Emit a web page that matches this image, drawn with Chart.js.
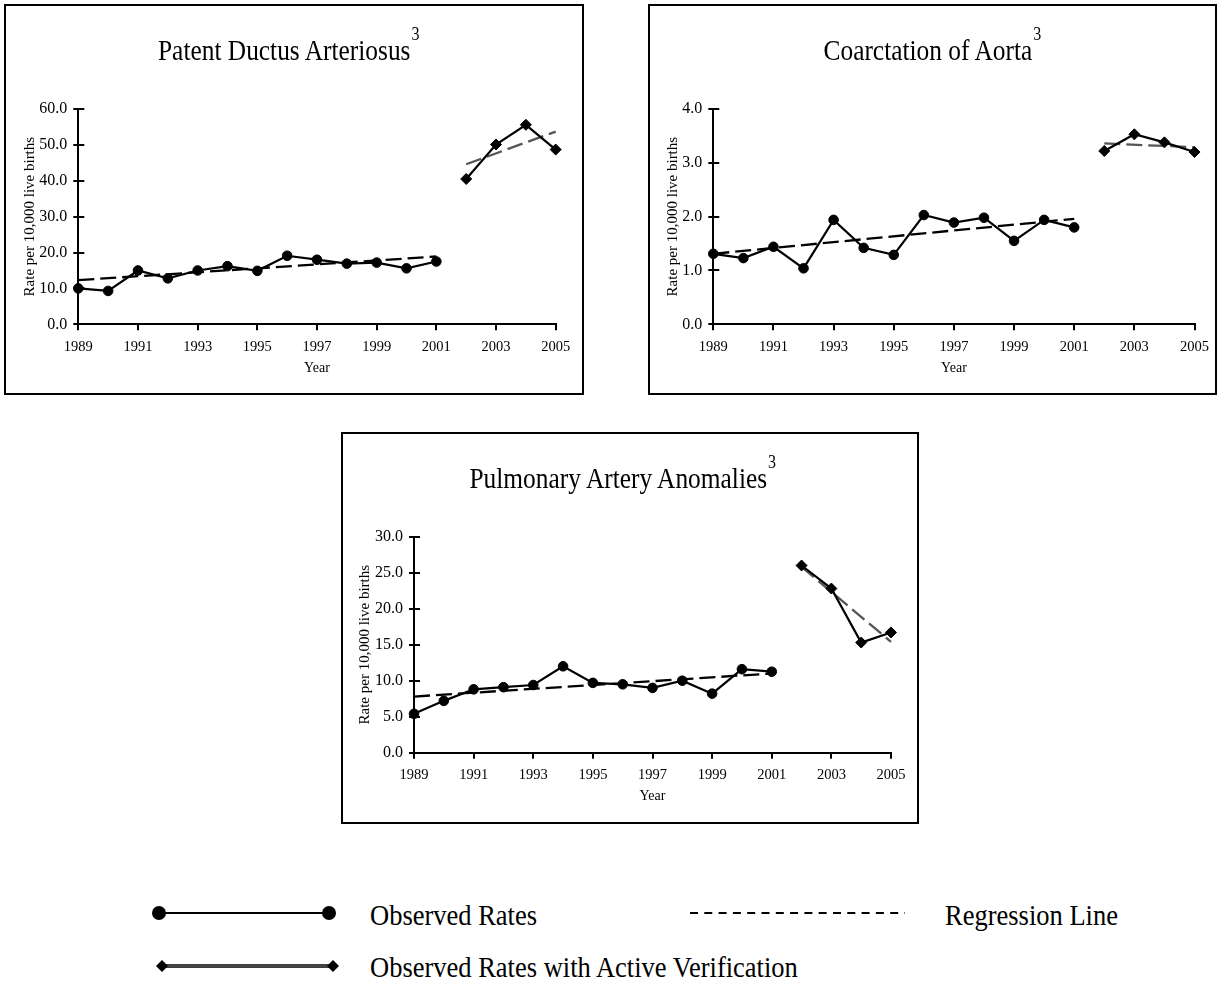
<!DOCTYPE html>
<html><head><meta charset="utf-8">
<script src="https://cdn.jsdelivr.net/npm/chart.js@4.4.0/dist/chart.umd.min.js"></script>
<style>
html,body{margin:0;padding:0;background:#fff;}
body{width:1219px;height:982px;position:relative;overflow:hidden;font-family:"Liberation Serif","Times New Roman",serif;color:#000;}
.box{position:absolute;border:2px solid #000;box-sizing:border-box;pointer-events:none;}
canvas{position:absolute;}
.title{position:absolute;font-size:25.4px;line-height:26px;white-space:nowrap;transform:scaleY(1.16);transform-origin:0 21.6px;}
.title .sup{font-size:16px;position:relative;top:-17.2px;margin-left:1px;}
.leg{position:absolute;font-size:26.5px;line-height:26.5px;white-space:nowrap;transform:scaleY(1.12);transform-origin:0 13.5px;}
</style></head><body>

<canvas id="c1" width="580" height="391" style="left:4px;top:4px"></canvas>
<canvas id="c2" width="569" height="391" style="left:648px;top:4px"></canvas>
<canvas id="c3" width="578" height="392" style="left:341px;top:432px"></canvas>

<div class="box" style="left:4px;top:4px;width:580px;height:391px"></div>
<div class="box" style="left:648px;top:4px;width:569px;height:391px"></div>
<div class="box" style="left:341px;top:432px;width:578px;height:392px"></div>

<div class="title" style="left:158px;top:38.4px">Patent Ductus Arteriosus<span class="sup">3</span></div>
<div class="title" style="left:823.5px;top:38.4px">Coarctation of Aorta<span class="sup">3</span></div>
<div class="title" style="left:469.5px;top:466.4px">Pulmonary Artery Anomalies<span class="sup">3</span></div>

<svg style="position:absolute;left:0;top:870px" width="1219" height="112">
  <line x1="159" y1="43" x2="329" y2="43" stroke="#000" stroke-width="2"/>
  <circle cx="159" cy="43" r="7" fill="#000"/>
  <circle cx="329" cy="43" r="7" fill="#000"/>
  <line x1="690" y1="43" x2="905" y2="43" stroke="#000" stroke-width="2" stroke-dasharray="8 6.3"/>
  <line x1="162" y1="96" x2="333" y2="96" stroke="#000" stroke-width="3.5"/>
  <line x1="162" y1="96" x2="333" y2="96" stroke="#888" stroke-width="1.2"/>
  <polygon points="156,96 162,90 168,96 162,102" fill="#000"/>
  <polygon points="327,96 333,90 339,96 333,102" fill="#000"/>
</svg>
<div class="leg" style="left:370px;top:901.5px">Observed Rates</div>
<div class="leg" style="left:945px;top:901.5px">Regression Line</div>
<div class="leg" style="left:370px;top:953.5px">Observed Rates with Active Verification</div>

<script>
// ---------- data ----------
const years = [1989,1990,1991,1992,1993,1994,1995,1996,1997,1998,1999,2000,2001];
const yearsActive = [2002,2003,2004,2005];
const regYearsObserved = [1989,2001];
const regYearsActive = [2002,2005];
const xTickYears = [1989,1991,1993,1995,1997,1999,2001,2003,2005];

const pdaObserved = [10.0,9.3,15.0,12.8,15.0,16.2,14.9,19.1,18.0,16.9,17.2,15.6,17.5];
const pdaActive = [40.5,50.1,55.6,48.7];
const pdaRegObserved = [12.3,18.9];
const pdaRegActive = [44.6,53.7];
const pdaTicks = [0,10,20,30,40,50,60];

const coaObserved = [1.31,1.23,1.44,1.04,1.94,1.42,1.29,2.03,1.89,1.98,1.55,1.94,1.80];
const coaActive = [3.22,3.53,3.38,3.20];
const coaRegObserved = [1.31,1.96];
const coaRegActive = [3.36,3.29];
const coaTicks = [0,1,2,3,4];

const paaObserved = [5.4,7.2,8.8,9.1,9.4,12.0,9.7,9.5,9.0,10.0,8.2,11.6,11.25];
const paaActive = [26.0,22.8,15.3,16.7];
const paaRegObserved = [7.8,11.0];
const paaRegActive = [25.8,15.4];
const paaTicks = [0,5,10,15,20,25,30];

const yTitle = 'Rate per 10,000 live births';
const xTitle = 'Year';

// ---------- rendering ----------
const FONT = '"Liberation Serif","Times New Roman",serif';
function pts(xs, ys){ return xs.map((x,i)=>({x:x, y:ys[i]})); }

const innerTicks = {
  id:'innerTicks',
  beforeDatasetsDraw(chart){
    const ys = chart.scales.y, xs = chart.scales.x, ctx = chart.ctx;
    ctx.save(); ctx.strokeStyle='#000'; ctx.lineWidth=2;
    ys.ticks.forEach(t=>{
      const py = Math.round(ys.getPixelForValue(t.value));
      ctx.beginPath(); ctx.moveTo(xs.left, py); ctx.lineTo(xs.left+6, py); ctx.stroke();
    });
    ctx.restore();
  }
};

function makeChart(id, p){
  new Chart(document.getElementById(id), {
    type:'line',
    data:{datasets:[
      {data:pts(years,p.obs), borderColor:'#000', backgroundColor:'#000', borderWidth:2.2,
       pointStyle:'circle', pointRadius:4.8, pointBorderWidth:1, clip:false, tension:0},
      {data:pts(yearsActive,p.act), borderColor:'#000', backgroundColor:'#000', borderWidth:2.2,
       pointStyle:'rectRot', pointRadius:5.5, pointBorderWidth:1, clip:false, tension:0},
      {data:pts(regYearsObserved,p.reg1), borderColor:'#000', borderWidth:2.3, borderDash:[16,6],
       pointRadius:0, clip:false},
      {data:pts(regYearsActive,p.reg2), borderColor:'#555', borderWidth:2.3, borderDash:[16,6],
       pointRadius:0, clip:false}
    ]},
    options:{
      responsive:false, animation:false, events:[],
      layout:{padding:{left:0, top:p.padTop, right:p.padRight, bottom:0}},
      plugins:{legend:{display:false}, tooltip:{enabled:false}},
      scales:{
        x:{type:'linear', min:1989, max:2005,
          afterBuildTicks:s=>{ s.ticks = xTickYears.map(v=>({value:v})); },
          afterFit:s=>{ s.height = p.xH; },
          ticks:{color:'#000', font:{family:FONT, size:14.5}, padding:8, maxRotation:0, autoSkip:false,
                 callback:v=>String(v)},
          grid:{display:true, drawOnChartArea:false, drawTicks:true, tickLength:6, color:'#000', lineWidth:2},
          border:{display:true, color:'#000', width:2},
          title:{display:true, text:xTitle, color:'#000', font:{family:FONT, size:14}, padding:{top:0, bottom:p.xTitlePad}}
        },
        y:{type:'linear', min:0, max:p.ticks[p.ticks.length-1],
          afterBuildTicks:s=>{ s.ticks = p.ticks.map(v=>({value:v})); },
          afterFit:s=>{ s.width = p.yW; },
          ticks:{color:'#000', font:{family:FONT, size:16}, padding:6, callback:v=>Number(v).toFixed(1)},
          grid:{display:true, drawOnChartArea:false, drawTicks:true, tickLength:5, color:'#000', lineWidth:2},
          border:{display:true, color:'#000', width:2},
          title:{display:true, text:yTitle, color:'#000', font:{family:FONT, size:15}, padding:{top:p.yTitlePad, bottom:0}}
        }
      }
    },
    plugins:[innerTicks]
  });
}

makeChart('c1', {obs:pdaObserved, act:pdaActive, reg1:pdaRegObserved, reg2:pdaRegActive, ticks:pdaTicks,
  padTop:105, padRight:28.3, yW:74.3, xH:70.7, xTitlePad:18.6, yTitlePad:17});
makeChart('c2', {obs:coaObserved, act:coaActive, reg1:coaRegObserved, reg2:coaRegActive, ticks:coaTicks,
  padTop:105, padRight:19.3, yW:65.3, xH:70.7, xTitlePad:18.6, yTitlePad:16});
makeChart('c3', {obs:paaObserved, act:paaActive, reg1:paaRegObserved, reg2:paaRegActive, ticks:paaTicks,
  padTop:104.7, padRight:28, yW:73, xH:71.3, xTitlePad:19.6, yTitlePad:15});
</script>
</body></html>
